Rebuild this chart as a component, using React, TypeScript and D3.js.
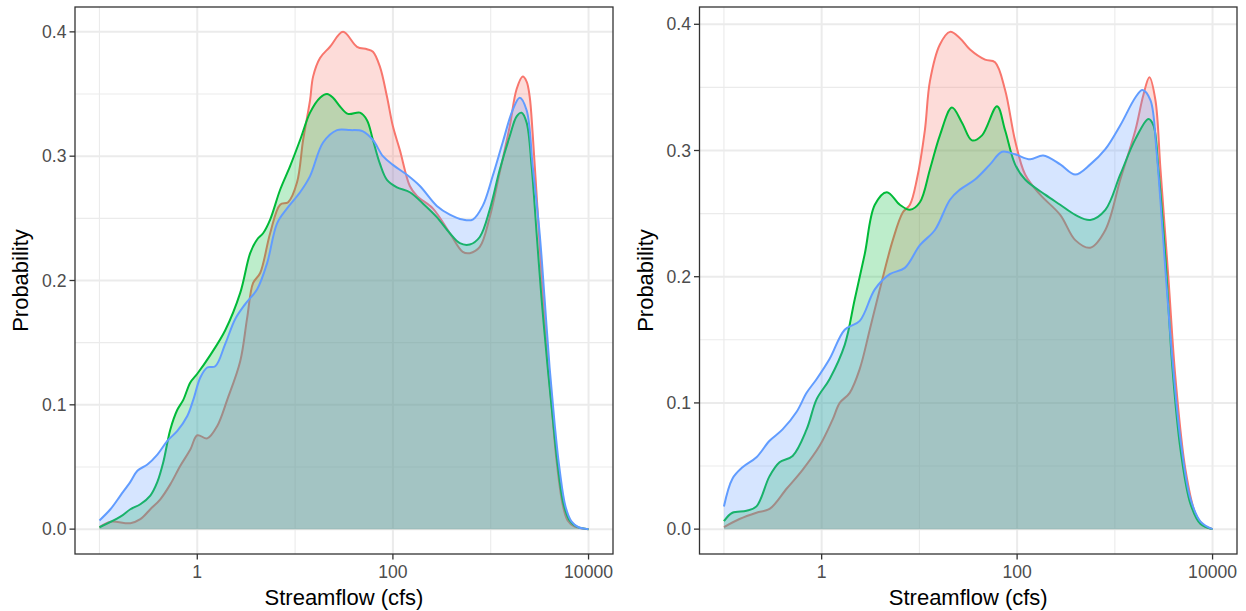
import React from "react";
import * as d3 from "d3";

// ---- Data (x stored as log10 of streamflow in cfs, y = probability density) ----
// Left panel
const leftRedLogQ = [-1, -0.888, -0.684, -0.582, -0.48, -0.378, -0.276, -0.173, -0.071, 0, 0.102, 0.204, 0.306, 0.439, 0.51, 0.571, 0.643, 0.745, 0.847, 0.929, 1.02, 1.082, 1.153, 1.184, 1.255, 1.357, 1.49, 1.633, 1.735, 1.796, 1.867, 1.939, 2.0, 2.071, 2.173, 2.245, 2.408, 2.582, 2.714, 2.786, 2.888, 2.99, 3.092, 3.194, 3.265, 3.327, 3.367, 3.398, 3.429, 3.48, 3.531, 3.582, 3.622, 3.673, 3.735, 3.786, 3.857, 4.0];
const leftRedProb = [0.0015, 0.006, 0.0048, 0.008, 0.016, 0.024, 0.036, 0.051, 0.064, 0.0755, 0.073, 0.083, 0.104, 0.135, 0.17, 0.198, 0.206, 0.238, 0.261, 0.263, 0.279, 0.313, 0.345, 0.364, 0.379, 0.388, 0.4, 0.388, 0.386, 0.384, 0.372, 0.348, 0.324, 0.305, 0.276, 0.268, 0.258, 0.238, 0.223, 0.222, 0.227, 0.251, 0.287, 0.324, 0.354, 0.364, 0.36, 0.348, 0.318, 0.255, 0.19, 0.135, 0.1, 0.055, 0.02, 0.007, 0.002, 0];

const leftGreenLogQ = [-1, -0.786, -0.684, -0.582, -0.48, -0.408, -0.347, -0.276, -0.204, -0.143, -0.071, 0, 0.133, 0.286, 0.439, 0.541, 0.612, 0.673, 0.745, 0.847, 0.949, 1.051, 1.153, 1.255, 1.327, 1.388, 1.459, 1.541, 1.663, 1.735, 1.796, 1.867, 1.939, 2.041, 2.173, 2.306, 2.449, 2.582, 2.684, 2.786, 2.888, 2.99, 3.092, 3.194, 3.265, 3.316, 3.367, 3.418, 3.469, 3.52, 3.582, 3.633, 3.684, 3.745, 3.806, 3.878, 4.0];
const leftGreenProb = [0.0015, 0.01, 0.016, 0.02, 0.027, 0.038, 0.054, 0.08, 0.096, 0.104, 0.118, 0.125, 0.14, 0.16, 0.19, 0.222, 0.233, 0.238, 0.249, 0.273, 0.292, 0.313, 0.335, 0.347, 0.35, 0.347, 0.34, 0.334, 0.335, 0.329, 0.313, 0.294, 0.281, 0.275, 0.271, 0.262, 0.251, 0.238, 0.23, 0.229, 0.235, 0.257, 0.289, 0.316, 0.332, 0.335, 0.327, 0.292, 0.238, 0.185, 0.13, 0.09, 0.052, 0.02, 0.007, 0.002, 0];

const leftBlueLogQ = [-1, -0.888, -0.786, -0.684, -0.612, -0.51, -0.408, -0.306, -0.204, -0.102, -0.041, 0.031, 0.102, 0.184, 0.286, 0.388, 0.49, 0.612, 0.714, 0.816, 0.918, 1.051, 1.153, 1.286, 1.429, 1.561, 1.694, 1.796, 1.898, 2.0, 2.143, 2.276, 2.449, 2.582, 2.714, 2.816, 2.918, 3.02, 3.122, 3.224, 3.296, 3.367, 3.429, 3.5, 3.551, 3.602, 3.653, 3.704, 3.765, 3.827, 3.898, 4.0];
const leftBlueProb = [0.007, 0.016, 0.027, 0.038, 0.047, 0.052, 0.06, 0.071, 0.079, 0.091, 0.104, 0.122, 0.13, 0.131, 0.149, 0.169, 0.181, 0.193, 0.214, 0.246, 0.258, 0.271, 0.284, 0.311, 0.321, 0.321, 0.32, 0.313, 0.3, 0.293, 0.285, 0.276, 0.26, 0.253, 0.249, 0.249, 0.26, 0.284, 0.311, 0.337, 0.347, 0.337, 0.292, 0.238, 0.185, 0.13, 0.085, 0.048, 0.018, 0.006, 0.0015, 0];

// Right panel
const rightRedLogQ = [-1, -0.841, -0.667, -0.533, -0.359, -0.195, -0.021, 0.113, 0.185, 0.287, 0.39, 0.492, 0.595, 0.728, 0.831, 0.903, 0.974, 1.056, 1.108, 1.21, 1.313, 1.415, 1.518, 1.672, 1.774, 1.877, 1.979, 2.082, 2.236, 2.441, 2.595, 2.749, 2.903, 3.056, 3.21, 3.292, 3.354, 3.415, 3.467, 3.549, 3.621, 3.723, 3.826, 3.908, 4.0];
const rightRedProb = [0.0016, 0.008, 0.013, 0.016, 0.032, 0.047, 0.066, 0.087, 0.1, 0.108, 0.127, 0.158, 0.19, 0.229, 0.251, 0.257, 0.277, 0.316, 0.355, 0.384, 0.394, 0.389, 0.38, 0.372, 0.37, 0.348, 0.308, 0.281, 0.265, 0.249, 0.229, 0.223, 0.237, 0.277, 0.316, 0.344, 0.358, 0.34, 0.285, 0.198, 0.119, 0.047, 0.012, 0.003, 0];

const rightGreenLogQ = [-1, -0.913, -0.769, -0.667, -0.533, -0.431, -0.297, -0.154, -0.051, 0.082, 0.236, 0.338, 0.441, 0.544, 0.667, 0.8, 0.903, 1.005, 1.108, 1.21, 1.333, 1.436, 1.538, 1.641, 1.795, 1.877, 1.979, 2.082, 2.287, 2.441, 2.595, 2.749, 2.903, 3.056, 3.21, 3.344, 3.395, 3.446, 3.518, 3.59, 3.672, 3.774, 3.877, 4.0];
const rightGreenProb = [0.0063, 0.013, 0.0145, 0.018, 0.042, 0.053, 0.058, 0.079, 0.103, 0.119, 0.146, 0.182, 0.218, 0.257, 0.267, 0.257, 0.253, 0.259, 0.285, 0.312, 0.334, 0.322, 0.308, 0.312, 0.335, 0.316, 0.289, 0.277, 0.265, 0.257, 0.249, 0.245, 0.253, 0.281, 0.309, 0.325, 0.32, 0.285, 0.214, 0.127, 0.063, 0.02, 0.004, 0];

const rightBlueLogQ = [-1, -0.913, -0.81, -0.667, -0.533, -0.4, -0.256, -0.154, -0.051, 0.082, 0.236, 0.39, 0.544, 0.697, 0.851, 1.005, 1.159, 1.313, 1.415, 1.569, 1.723, 1.846, 1.979, 2.133, 2.267, 2.441, 2.595, 2.749, 2.903, 3.056, 3.21, 3.282, 3.364, 3.426, 3.467, 3.518, 3.59, 3.672, 3.774, 3.877, 4.0];
const rightBlueProb = [0.018, 0.04, 0.049, 0.057, 0.07, 0.079, 0.093, 0.108, 0.119, 0.135, 0.158, 0.165, 0.19, 0.202, 0.207, 0.225, 0.237, 0.261, 0.269, 0.277, 0.289, 0.299, 0.297, 0.293, 0.296, 0.289, 0.281, 0.289, 0.301, 0.32, 0.342, 0.348, 0.34, 0.3, 0.26, 0.205, 0.134, 0.071, 0.024, 0.006, 0];

const seriesColors = ["#F8766D", "#00BA38", "#619CFF"];
const xTickValues = [1, 100, 10000];
const xTickLabels = ["1", "100", "10000"];
const xMinorValues = [0.1, 10, 1000];
const yTickValues = [0, 0.1, 0.2, 0.3, 0.4];
const yTickLabels = ["0.0", "0.1", "0.2", "0.3", "0.4"];
const yMinorValues = [0.05, 0.15, 0.25, 0.35];
const xTitle = "Streamflow (cfs)";
const yTitle = "Probability";

type Series = { logQ: number[]; prob: number[]; color: string };

const leftSeries: Series[] = [
  { logQ: leftRedLogQ, prob: leftRedProb, color: seriesColors[0] },
  { logQ: leftGreenLogQ, prob: leftGreenProb, color: seriesColors[1] },
  { logQ: leftBlueLogQ, prob: leftBlueProb, color: seriesColors[2] },
];
const rightSeries: Series[] = [
  { logQ: rightRedLogQ, prob: rightRedProb, color: seriesColors[0] },
  { logQ: rightGreenLogQ, prob: rightGreenProb, color: seriesColors[1] },
  { logQ: rightBlueLogQ, prob: rightBlueProb, color: seriesColors[2] },
];

const FONT = "'Liberation Sans', Arial, Helvetica, sans-serif";
const TOP = 7;
const BOTTOM = 554;

function Panel({ left, right, series }: { left: number; right: number; series: Series[] }) {
  const allLog = series.flatMap((s) => s.logQ);
  const lo = d3.min(allLog) as number;
  const hi = d3.max(allLog) as number;
  const pad = (hi - lo) * 0.05;
  const x = d3.scaleLog().domain([Math.pow(10, lo - pad), Math.pow(10, hi + pad)]).range([left, right]);
  const ymax = d3.max(series.flatMap((s) => s.prob)) as number;
  const y = d3.scaleLinear().domain([-0.05 * ymax, 1.05 * ymax]).range([BOTTOM, TOP]);

  const curve = d3.curveCatmullRom.alpha(0.5);
  const area = d3
    .area<[number, number]>()
    .x((d) => x(Math.pow(10, d[0])))
    .y0(y(0))
    .y1((d) => y(d[1]))
    .curve(curve);
  const line = d3
    .line<[number, number]>()
    .x((d) => x(Math.pow(10, d[0])))
    .y((d) => y(d[1]))
    .curve(curve);

  const gridColor = "#EBEBEB";
  const tickColor = "#333333";
  const labelColor = "#4D4D4D";
  const midY = (TOP + BOTTOM) / 2;
  const midX = (left + right) / 2;

  return (
    <g>
      <rect x={left} y={TOP} width={right - left} height={BOTTOM - TOP} fill="#FFFFFF" />
      {yMinorValues.map((v) => (
        <line key={"ym" + v} x1={left} x2={right} y1={y(v)} y2={y(v)} stroke={gridColor} strokeWidth={1.1} />
      ))}
      {xMinorValues.map((v) => (
        <line key={"xm" + v} x1={x(v)} x2={x(v)} y1={TOP} y2={BOTTOM} stroke={gridColor} strokeWidth={1.1} />
      ))}
      {yTickValues.map((v) => (
        <line key={"yg" + v} x1={left} x2={right} y1={y(v)} y2={y(v)} stroke={gridColor} strokeWidth={2} />
      ))}
      {xTickValues.map((v) => (
        <line key={"xg" + v} x1={x(v)} x2={x(v)} y1={TOP} y2={BOTTOM} stroke={gridColor} strokeWidth={2} />
      ))}
      {series.map((s, i) => {
        const pts = s.logQ.map((l, j) => [l, s.prob[j]] as [number, number]);
        return (
          <g key={"s" + i}>
            <path d={area(pts) || ""} fill={s.color} fillOpacity={0.26} stroke="none" />
            <path d={line(pts) || ""} fill="none" stroke={s.color} strokeWidth={2} />
          </g>
        );
      })}
      <rect x={left} y={TOP} width={right - left} height={BOTTOM - TOP} fill="none" stroke={tickColor} strokeWidth={1.3} />
      {yTickValues.map((v, i) => (
        <g key={"yt" + v}>
          <line x1={left - 5.5} x2={left} y1={y(v)} y2={y(v)} stroke={tickColor} strokeWidth={1.3} />
          <text x={left - 8.5} y={y(v)} dy="0.35em" textAnchor="end" fontSize={17.6} fill={labelColor} fontFamily={FONT}>
            {yTickLabels[i]}
          </text>
        </g>
      ))}
      {xTickValues.map((v, i) => (
        <g key={"xt" + v}>
          <line x1={x(v)} x2={x(v)} y1={BOTTOM} y2={BOTTOM + 5.5} stroke={tickColor} strokeWidth={1.3} />
          <text x={x(v)} y={578} textAnchor="middle" fontSize={17.6} fill={labelColor} fontFamily={FONT}>
            {xTickLabels[i]}
          </text>
        </g>
      ))}
      <text x={midX} y={605} textAnchor="middle" fontSize={22} fill="#000000" fontFamily={FONT}>
        {xTitle}
      </text>
      <text
        transform={`translate(${left - 47},${midY}) rotate(-90)`}
        textAnchor="middle"
        fontSize={22}
        fill="#000000"
        fontFamily={FONT}
      >
        {yTitle}
      </text>
    </g>
  );
}

export default function App() {
  return (
    <svg
      width={1246}
      height={611}
      viewBox="0 0 1246 611"
      style={{ position: "absolute", left: 0, top: 0, background: "#FFFFFF" }}
    >
      <rect x={0} y={0} width={1246} height={611} fill="#FFFFFF" />
      <Panel left={75} right={613} series={leftSeries} />
      <Panel left={699.5} right={1237} series={rightSeries} />
    </svg>
  );
}
